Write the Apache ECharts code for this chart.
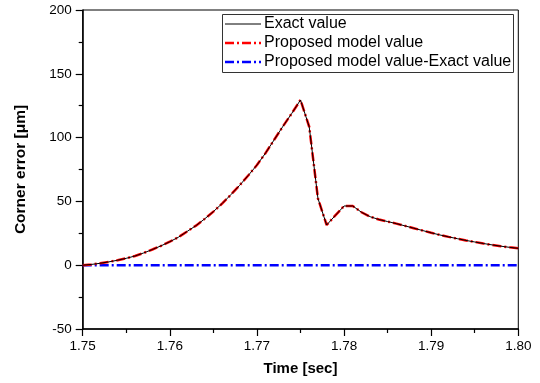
<!DOCTYPE html>
<html>
<head>
<meta charset="utf-8">
<script src="https://cdn.jsdelivr.net/npm/echarts@6/dist/echarts.min.js"></script>
<style>html,body{margin:0;padding:0;background:#fff;}#chart{width:540px;height:383px;}</style>
</head>
<body>
<div id="chart"></div>
<script>
var times = [1.750,1.751,1.752,1.753,1.754,1.755,1.756,1.757,1.758,1.759,
             1.760,1.761,1.762,1.763,1.764,1.765,1.766,1.767,1.768,1.769,
             1.770,1.771,1.772,1.773,1.774,1.775,1.776,1.777,1.778,1.779,
             1.780,1.781,1.782,1.783,1.784,1.785,1.786,1.787,1.788,1.789,
             1.790,1.791,1.792,1.793,1.794,1.795,1.796,1.797,1.798,1.799,1.800];
var exactValues = [0,0.6,1.5,2.6,3.9,5.4,7.2,9.6,12.3,15.2,
                   18.4,22.0,26.5,31.0,36.3,42.0,48.3,55.2,62.5,70.3,
                   78.5,88.0,98.5,109.0,119.0,129.5,108.5,52.4,31.5,39.0,
                   46.4,46.4,41.5,38.0,35.8,34.2,32.6,30.8,29.0,27.2,
                   25.4,23.7,22.2,20.8,19.4,18.2,17.0,15.9,14.9,14.0,13.2];
var modelValues = [0,0.6,1.5,2.6,3.9,5.4,7.2,9.6,12.3,15.2,
                   18.4,22.0,26.5,31.0,36.3,42.0,48.3,55.2,62.5,70.3,
                   78.5,88.0,98.5,109.0,119.0,129.5,108.5,52.4,31.5,39.0,
                   46.4,46.4,41.5,38.0,35.8,34.2,32.6,30.8,29.0,27.2,
                   25.4,23.7,22.2,20.8,19.4,18.2,17.0,15.9,14.9,14.0,13.2];
var diffValues = [0,0,0,0,0,0,0,0,0,0,
                  0,0,0,0,0,0,0,0,0,0,
                  0,0,0,0,0,0,0,0,0,0,
                  0,0,0,0,0,0,0,0,0,0,
                  0,0,0,0,0,0,0,0,0,0,0];
var seriesNames = ['Exact value','Proposed model value','Proposed model value-Exact value'];
var xTitle = 'Time [sec]';
var yTitle = 'Corner error [\u03bcm]';

function pairs(xs, ys){ return xs.map(function(x,i){ return [x, ys[i]]; }); }

var font = '"Liberation Sans", Arial, sans-serif';
var styles = [
  {color: '#000', width: 1, dash: null},
  {color: '#ff0000', width: 2.5, dash: [9, 3, 2, 3]},
  {color: '#0000ff', width: 2.5, dash: [9, 3, 2, 3]}
];

// Legend drawn as graphic elements
var legendBox = {x: 222, y: 14, w: 291, h: 58, rowY: [24, 43, 62]};
var legendGraphics = [{
  type: 'rect', shape: {x: legendBox.x + 0.5, y: legendBox.y + 0.5, width: legendBox.w, height: legendBox.h},
  style: {fill: '#fff', stroke: '#333', lineWidth: 1}, z: 100
}];
seriesNames.forEach(function(n, i){
  var s = styles[i];
  legendGraphics.push({
    type: 'line', shape: {x1: 225, y1: legendBox.rowY[i], x2: 261, y2: legendBox.rowY[i]},
    style: {stroke: s.color, lineWidth: s.width, lineDash: s.dash}, z: 101
  });
  legendGraphics.push({
    type: 'text', x: 264, y: legendBox.rowY[i],
    style: {text: n, fontFamily: font, fontSize: 16, fill: '#000', verticalAlign: 'middle', align: 'left'}, z: 101
  });
});

var chart = echarts.init(document.getElementById('chart'), null, {renderer:'canvas'});
chart.setOption({
  animation: false,
  backgroundColor: '#fff',
  grid: {left: 82.7, right: 21.7, top: 10, bottom: 54, show: true, borderColor: '#000', borderWidth: 1},
  graphic: legendGraphics,
  xAxis: {
    type: 'value', min: 1.75, max: 1.80, interval: 0.01,
    name: xTitle, nameLocation: 'middle', nameGap: 32,
    nameTextStyle: {fontFamily: font, fontSize: 15, fontWeight: 'bold', color: '#000'},
    axisLine: {onZero: false, lineStyle: {color: '#000', width: 1.5}},
    axisTick: {show: true, length: 7, lineStyle: {color: '#000', width: 1.2}},
    minorTick: {show: true, splitNumber: 2, length: 4, lineStyle: {color: '#000', width: 1.2}},
    splitLine: {show: false},
    axisLabel: {fontFamily: font, fontSize: 13.5, color: '#000', margin: 10,
      formatter: function(v){ return v.toFixed(2); }}
  },
  yAxis: {
    type: 'value', min: -50, max: 200, interval: 50,
    name: yTitle, nameLocation: 'middle', nameGap: 54,
    nameTextStyle: {fontFamily: font, fontSize: 15.5, fontWeight: 'bold', color: '#000'},
    axisLine: {show: true, onZero: false, lineStyle: {color: '#000', width: 1.5}},
    axisTick: {show: true, length: 7, lineStyle: {color: '#000', width: 1.2}},
    minorTick: {show: true, splitNumber: 2, length: 4, lineStyle: {color: '#000', width: 1.2}},
    splitLine: {show: false},
    axisLabel: {fontFamily: font, fontSize: 13.5, color: '#000', margin: 11}
  },
  series: [
    {name: seriesNames[0], type: 'line', data: pairs(times, exactValues), symbol: 'none', z: 4,
     lineStyle: {color: styles[0].color, width: styles[0].width}},
    {name: seriesNames[1], type: 'line', data: pairs(times, modelValues), symbol: 'none', z: 3,
     lineStyle: {color: styles[1].color, width: styles[1].width, type: styles[1].dash}},
    {name: seriesNames[2], type: 'line', data: pairs(times, diffValues), symbol: 'none', z: 2,
     lineStyle: {color: styles[2].color, width: styles[2].width, type: styles[2].dash}}
  ]
});
</script>
</body>
</html>
